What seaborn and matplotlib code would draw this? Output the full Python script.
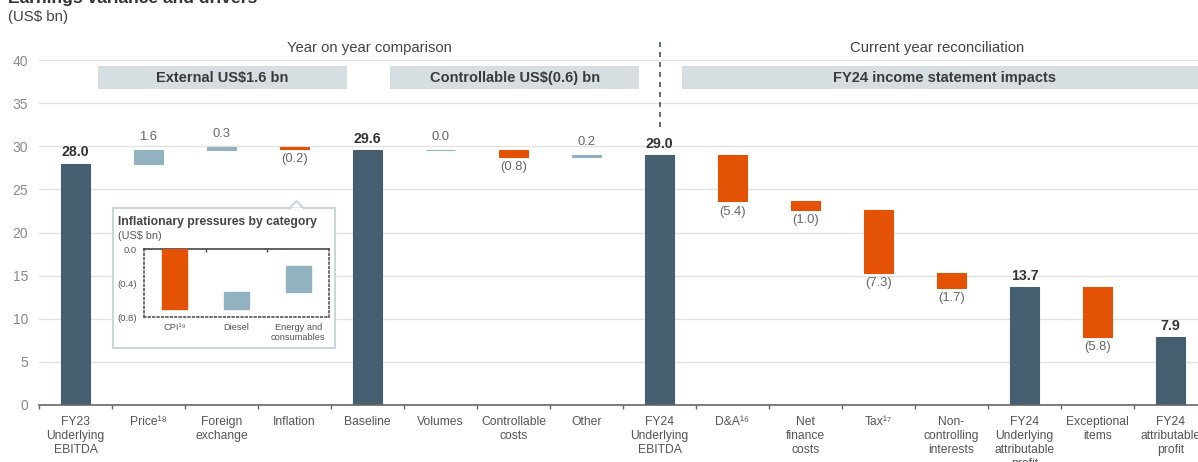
import numpy as np
import pandas as pd
import matplotlib
matplotlib.use("Agg")
import matplotlib.pyplot as plt
import seaborn as sns
from matplotlib.patches import Rectangle, Polygon

# main waterfall data
categories = ["FY23\nUnderlying\nEBITDA", "Price\u00b9\u2078", "Foreign\nexchange", "Inflation",
              "Baseline", "Volumes", "Controllable\ncosts", "Other", "FY24\nUnderlying\nEBITDA",
              "D&A\u00b9\u2076", "Net\nfinance\ncosts", "Tax\u00b9\u2077", "Non-\ncontrolling\ninterests",
              "FY24\nUnderlying\nattributable\nprofit", "Exceptional\nitems", "FY24\nattributable\nprofit"]
values = [28.0, 1.6, 0.3, -0.2, 29.6, 0.0, -0.8, 0.2, 29.0, -5.4, -1.0, -7.3, -1.7, 13.7, -5.8, 7.9]
is_total = [True, False, False, False, True, False, False, False, True,
            False, False, False, False, True, False, True]

# group headers
band_labels = ["External US$1.6 bn", "Controllable US$(0.6) bn", "FY24 income statement impacts"]
band_spans = [(0.31, 3.72), (4.31, 7.72), (8.31, 16.2)]
section_labels = ["Year on year comparison", "Current year reconciliation"]
section_pos = [4.03, 11.8]

# inset data
inset_categories = ["CPI\u00b9\u2079", "Diesel", "Energy and\nconsumables"]
inset_values = [-0.7, 0.2, 0.3]

DARK = "#465f70"
LIGHT = "#92b2c1"
ORANGE = "#e35205"
W, H = 1198, 462


def fmt(v):
    return f"{v:.1f}" if v >= 0 else f"({abs(v):.1f})"


def waterfall(vals, totals):
    bottoms, heights, level = [], [], 0.0
    for v, t in zip(vals, totals):
        if t:
            bottoms.append(0.0)
            heights.append(v)
            level = v
        else:
            bottoms.append(min(level, level + v))
            heights.append(abs(v))
            level += v
    return bottoms, heights


sns.set_theme(style="white")
plt.rcParams['font.family'] = ['Liberation Sans', 'DejaVu Sans']

fig = plt.figure(figsize=(W / 100, H / 100), dpi=100)
ax = fig.add_axes([39 / W, 57 / H, 16 * 73 / W, 345 / H])

bottoms, heights = waterfall(values, is_total)
df = pd.DataFrame({"category": categories, "height": heights, "bottom": bottoms})
colors = [DARK if t else (LIGHT if v >= 0 else ORANGE) for v, t in zip(values, is_total)]

sns.barplot(data=df, x="category", y="height", bottom=df["bottom"].values, width=0.4,
            errorbar=None, color=DARK, ax=ax, zorder=3)
for p, c in zip(ax.patches, colors):
    p.set_facecolor(c)
    p.set_edgecolor(c)
    p.set_linewidth(0.8)

# value labels
for i, (v, t, b, h) in enumerate(zip(values, is_total, bottoms, heights)):
    if t:
        ax.annotate(fmt(v), (i, b + h), xytext=(0, 3), textcoords="offset points",
                    ha="center", va="bottom", fontsize=10.2, fontweight="bold", color="#333333")
    elif v >= 0:
        ax.annotate(fmt(v), (i, b + h), xytext=(0, 5), textcoords="offset points",
                    ha="center", va="bottom", fontsize=9.4, color="#666666")
    else:
        ax.annotate(fmt(v), (i, b), xytext=(0, -3), textcoords="offset points",
                    ha="center", va="top", fontsize=9.4, color="#666666")

ax.set_ylim(0, 40)
ax.set_xlim(-0.5, 15.5)
ax.set_yticks(np.arange(0, 41, 5))
ax.grid(axis="y", color="#e2e2e2", linewidth=1, zorder=0)
ax.set_axisbelow(True)
ax.set_xlabel("")
ax.set_ylabel("")
for s in ["top", "right", "left"]:
    ax.spines[s].set_visible(False)
ax.spines["bottom"].set_color("#666666")
ax.spines["bottom"].set_linewidth(1.2)
ax.spines["bottom"].set_zorder(4)
ax.set_xticks(np.arange(-0.5, 16, 1), minor=True)
ax.tick_params(axis="x", which="major", length=0, pad=8, labelsize=8.7, labelcolor="#555555")
ax.tick_params(axis="x", which="minor", length=3, width=1, color="#666666", direction="out", bottom=True)
ax.tick_params(axis="y", length=0, pad=8, labelsize=10, labelcolor="#8a8a8a")

# header bands and section titles
for (x0, x1), lab in zip(band_spans, band_labels):
    ax.add_patch(Rectangle((x0, 36.6), x1 - x0, 2.7, facecolor="#d7dee2", edgecolor="none",
                           zorder=2, clip_on=False))
    ax.text((x0 + min(x1, 15.5)) / 2, 37.95, lab, ha="center", va="center", fontsize=10.5,
            fontweight="bold", color="#3a3a3a", zorder=3)
for x, lab in zip(section_pos, section_labels):
    ax.text(x, 41.4, lab, ha="center", va="center", fontsize=10.7, color="#444444", clip_on=False)
ax.plot([8, 8], [32.2, 42.6], color="#3d5566", linewidth=1.2, linestyle=(0, (3, 3)),
        clip_on=False, zorder=3)

# figure title (cropped at top)
fig.text(0.007, 1 + 1 / H, "Earnings variance and drivers", ha="left", va="center",
         fontsize=12.6, fontweight="bold", color="#333333")
fig.text(0.007, 1 - 17 / H, "(US$ bn)", ha="left", va="center", fontsize=10.8, color="#444444")

# inset box
bx0, bx1, by0, by1 = 113 / W, 335 / W, 1 - 348 / H, 1 - 208 / H
fig.patches.append(Rectangle((bx0, by0), bx1 - bx0, by1 - by0, transform=fig.transFigure,
                             facecolor="white", edgecolor="#c9d6dc", linewidth=1.5, zorder=5))
fig.patches.append(Polygon([(289 / W, by1 - 0.5 / H), (296.5 / W, 1 - 201 / H), (304 / W, by1 - 0.5 / H)],
                           closed=True, transform=fig.transFigure, facecolor="white",
                           edgecolor="#c9d6dc", linewidth=1.5, zorder=5))
fig.patches.append(Rectangle((290.5 / W, by1 - 2 / H), 12 / W, 2.5 / H, transform=fig.transFigure,
                             facecolor="white", edgecolor="none", zorder=5))
fig.text(118 / W, 1 - 222 / H, "Inflationary pressures by category", ha="left", va="center",
         fontsize=8.7, fontweight="bold", color="#444444", zorder=6)
fig.text(118 / W, 1 - 236 / H, "(US$ bn)", ha="left", va="center", fontsize=7.8,
         color="#555555", zorder=6)

iax = fig.add_axes([143.7 / W, 1 - 317.3 / H, 185.6 / W, 68 / H])
iax.set_zorder(7)
iax.patch.set_alpha(0)
ib, ih = waterfall(inset_values, [False] * len(inset_values))
idf = pd.DataFrame({"category": inset_categories, "height": ih, "bottom": ib})
icolors = [LIGHT if v >= 0 else ORANGE for v in inset_values]
sns.barplot(data=idf, x="category", y="height", bottom=idf["bottom"].values, width=0.4,
            errorbar=None, color=ORANGE, ax=iax, zorder=3)
for p, c in zip(iax.patches, icolors):
    p.set_facecolor(c)
    p.set_edgecolor(c)
iax.set_ylim(-0.8, 0)
iax.set_xlim(-0.5, 2.5)
iax.set_yticks([0, -0.4, -0.8])
iax.set_yticklabels(["0.0", "(0.4)", "(0.8)"])
iax.set_xlabel("")
iax.set_ylabel("")
for s in ["left", "right", "bottom"]:
    iax.spines[s].set_linestyle(":")
    iax.spines[s].set_color("#555555")
    iax.spines[s].set_linewidth(1.2)
iax.spines["top"].set_color("#444444")
iax.spines["top"].set_linewidth(1.2)
iax.set_xticks([0.5, 1.5], minor=True)
iax.tick_params(axis="x", which="major", length=0, pad=4, labelsize=6.7, labelcolor="#555555")
iax.tick_params(axis="x", which="minor", top=True, bottom=False, length=2, direction="in",
                color="#444444")
iax.tick_params(axis="y", length=0, pad=5, labelsize=6.8, labelcolor="#555555")

fig.savefig("out.png", dpi=100)
